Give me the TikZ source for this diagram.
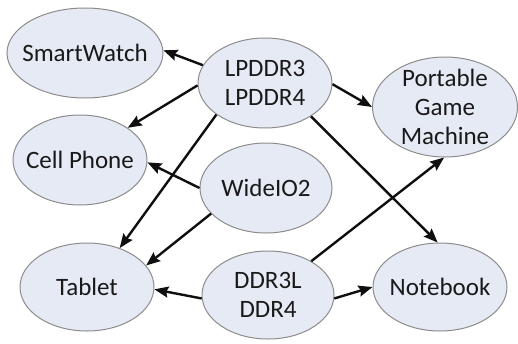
\documentclass[tikz,border=0pt]{standalone}
\usepackage{fontspec}
\setmainfont{Carlito}
\usetikzlibrary{shapes.geometric,arrows.meta}
\definecolor{DevFill}{RGB}{229, 234, 244}
\definecolor{DevLine}{RGB}{140, 140, 140}
\definecolor{LinkLine}{RGB}{15, 15, 15}

\tikzset{
  device/.style={ellipse, draw=DevLine, line width=1pt, fill=DevFill, inner sep=0pt,
    label={[text=black!90, align=center, font=\fontsize{25}{29}\selectfont]center:#1}},
  link/.style={draw=LinkLine, line width=2.4pt, -{Stealth[length=14pt,width=11pt,inset=2pt]}}
}

\begin{document}
\begin{tikzpicture}[x=1pt, y=-1pt]
    \useasboundingbox (0,0) rectangle (518,343);

    % Devices (left column)
    \node[device={SmartWatch}, minimum width=156pt, minimum height=90pt] (sw) at (85,53) {};
    \node[device={Cell Phone}, minimum width=134pt, minimum height=90pt] (cp) at (80,160) {};
    \node[device={Tablet}, minimum width=134pt, minimum height=88pt] (tab) at (87,287) {};

    % Memory types (middle column)
    \node[device={LPDDR3\\LPDDR4}, minimum width=134pt, minimum height=90pt] (lp) at (265,83) {};
    \node[device={WideIO2}, minimum width=132pt, minimum height=90pt] (wio) at (266,188) {};
    \node[device={DDR3L\\DDR4}, minimum width=132pt, minimum height=88pt] (ddr) at (268,295) {};

    % Devices (right column)
    \node[device={Portable\\Game\\Machine}, minimum width=145pt, minimum height=100pt] (pgm) at (445,107) {};
    \node[device={Notebook}, minimum width=134pt, minimum height=88pt] (nb) at (440,287) {};

    % LPDDR3 / LPDDR4
    \draw[link] (lp.164) -- (sw.2);
    \draw[link] (lp.182) -- (cp.34);
    \draw[link] (lp.213) -- (tab.50);
    \draw[link] (lp.359) -- (pgm.180);
    \draw[link] (lp.324) -- (nb.93);

    % WideIO2
    \draw[link] (wio.180) -- (cp.358);
    \draw[link] (wio.205) -- (tab.20);

    % DDR3L / DDR4
    \draw[link] (ddr.183) -- (tab.358);
    \draw[link] (ddr.38) -- (pgm.269);
    \draw[link] (ddr.357) -- (nb.180);
\end{tikzpicture}
\end{document}
